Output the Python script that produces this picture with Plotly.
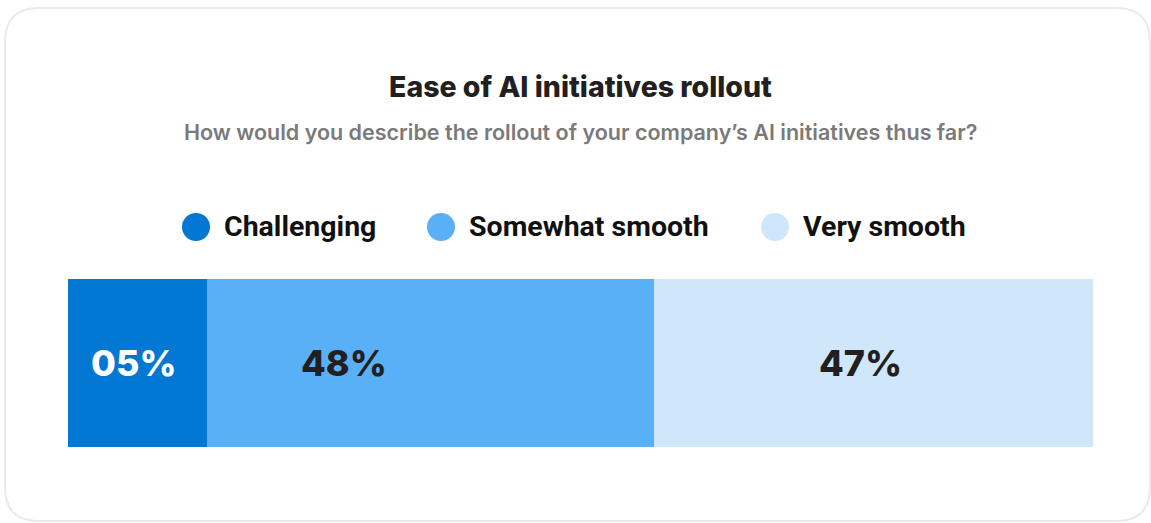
import plotly.graph_objects as go

# ---- data ----
categories = ["Challenging", "Somewhat smooth", "Very smooth"]
values = [5, 48, 47]                 # displayed percentages
drawn_share = [13.6, 43.6, 42.8]     # segment widths as drawn in the reference (% of bar)
colors = ["#0277D4", "#5AB0F7", "#D0E6FB"]
label_colors = ["#FFFFFF", "#231F20", "#231F20"]
title = "Ease of AI initiatives rollout"
subtitle = "How would you describe the rollout of your company’s AI initiatives thus far?"

W, H = 1151, 523

def px(x):
    return x / W

def py(y):
    return 1 - y / H

fig = go.Figure()
for cat, share, col in zip(categories, drawn_share, colors):
    fig.add_trace(go.Bar(
        x=[share], y=[0], orientation="h", name=cat,
        marker=dict(color=col, line=dict(width=0)),
        width=1, showlegend=False, hoverinfo="skip",
    ))

annotations = []
# value labels inside the bar
label_x = [6.4, 26.9, 77.3]
for v, lx, lc in zip(values, label_x, label_colors):
    annotations.append(dict(
        x=lx, y=0, xref="x", yref="y", text=f"{v:02d}%", showarrow=False,
        font=dict(family="Inter", size=36, color=lc, weight=800),
        xanchor="center", yanchor="middle",
    ))

# title + subtitle
annotations.append(dict(
    x=px(580), y=py(87), xref="paper", yref="paper", text=title, showarrow=False,
    font=dict(family="Inter", size=28.5, color="#231F20", weight=800),
    xanchor="center", yanchor="middle",
))
annotations.append(dict(
    x=px(580), y=py(132), xref="paper", yref="paper", text=subtitle, showarrow=False,
    font=dict(family="Inter", size=21.5, color="#7A7A7A", weight=600),
    xanchor="center", yanchor="middle",
))

# custom legend
shapes = []
legend_cx = [196, 441, 775]
legend_cy = 227
r = 14
for cat, col, cx in zip(categories, colors, legend_cx):
    shapes.append(dict(
        type="circle", xref="paper", yref="paper",
        x0=px(cx - r), x1=px(cx + r), y0=py(legend_cy + r), y1=py(legend_cy - r),
        fillcolor=col, line=dict(width=0),
    ))
    annotations.append(dict(
        x=px(cx + 26), y=py(legend_cy), xref="paper", yref="paper", text=cat,
        showarrow=False, xanchor="left", yanchor="middle",
        font=dict(family="Roboto", size=28.5, color="#111111", weight=700),
    ))

# rounded card border
L, T, R, B, rad = 5, 8, 1150, 521, 34
path = (
    f"M {px(L + rad)} {py(T)} L {px(R - rad)} {py(T)} "
    f"Q {px(R)} {py(T)} {px(R)} {py(T + rad)} "
    f"L {px(R)} {py(B - rad)} Q {px(R)} {py(B)} {px(R - rad)} {py(B)} "
    f"L {px(L + rad)} {py(B)} Q {px(L)} {py(B)} {px(L)} {py(B - rad)} "
    f"L {px(L)} {py(T + rad)} Q {px(L)} {py(T)} {px(L + rad)} {py(T)} Z"
)
shapes.append(dict(type="path", path=path, xref="paper", yref="paper",
                   line=dict(color="#EAEAEA", width=2), layer="below"))

fig.update_layout(
    width=W, height=H,
    margin=dict(l=0, r=0, t=0, b=0),
    paper_bgcolor="white", plot_bgcolor="white",
    barmode="stack", bargap=0,
    xaxis=dict(domain=[px(68), px(1093)], range=[0, 100], visible=False, fixedrange=True),
    yaxis=dict(domain=[py(447), py(279)], range=[-0.5, 0.5], visible=False, fixedrange=True),
    annotations=annotations, shapes=shapes,
    showlegend=False,
)

fig.write_html("out.html", config={"displayModeBar": False})
